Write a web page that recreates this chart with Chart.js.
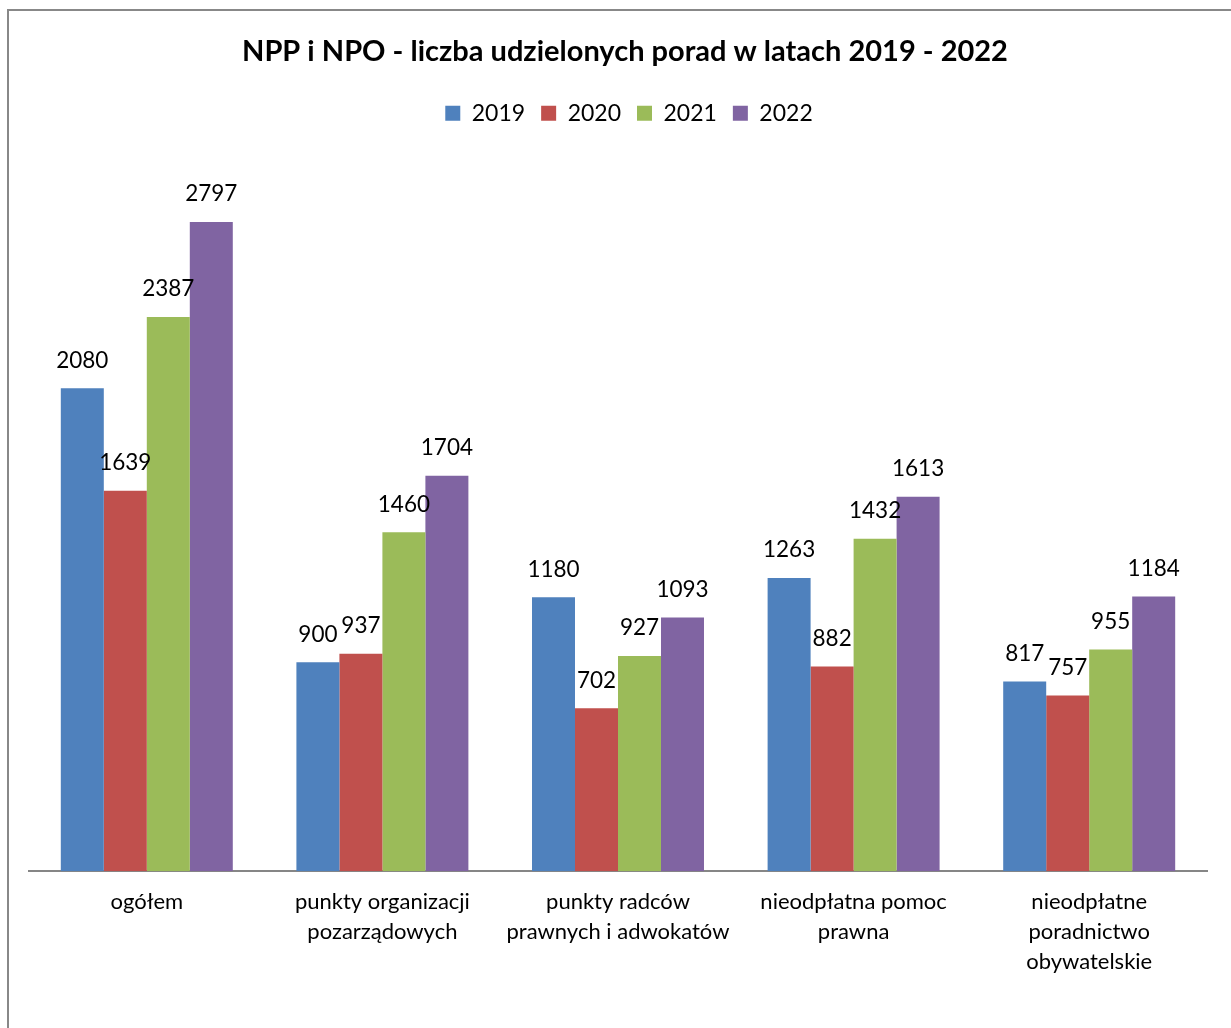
<!DOCTYPE html>
<html>
<head>
<meta charset="utf-8">
<script src="https://cdn.jsdelivr.net/npm/chart.js@4.4.1/dist/chart.umd.min.js"></script>
<style>
  html, body { margin: 0; padding: 0; background: #ffffff; }
  #wrap { position: relative; width: 1231px; height: 1028px; }
</style>
</head>
<body>
<div id="wrap"><canvas id="c" width="1231" height="1028"></canvas></div>
<script>
const titleText = 'NPP i NPO - liczba udzielonych porad w latach 2019 - 2022';
const categories = [
  ['ogółem'],
  ['punkty organizacji', 'pozarządowych'],
  ['punkty radców', 'prawnych i adwokatów'],
  ['nieodpłatna pomoc', 'prawna'],
  ['nieodpłatne', 'poradnictwo', 'obywatelskie']
];
const seriesNames = ['2019', '2020', '2021', '2022'];
const values2019 = [2080, 900, 1180, 1263, 817];
const values2020 = [1639, 937, 702, 882, 757];
const values2021 = [2387, 1460, 927, 1432, 955];
const values2022 = [2797, 1704, 1093, 1613, 1184];
const seriesColors = ['#4F81BD', '#C0504D', '#9BBB59', '#8064A2'];

const FONT = 'Lato, "Open Sans", sans-serif';

const frameBorder = {
  id: 'frameBorder',
  beforeDraw(chart) {
    const ctx = chart.ctx;
    ctx.save();
    ctx.fillStyle = '#ffffff';
    ctx.fillRect(0, 0, chart.width, chart.height);
    ctx.strokeStyle = '#888888';
    ctx.lineWidth = 2;
    ctx.beginPath();
    ctx.moveTo(8, chart.height + 2);
    ctx.lineTo(8, 10);
    ctx.lineTo(chart.width + 2, 10);
    ctx.stroke();
    ctx.restore();
  }
};

const headerLayout = {
  id: 'headerLayout',
  beforeInit(chart) {
    const origFit = chart.legend.fit;
    chart.legend.fit = function () {
      origFit.call(this);
      this.height += 40;
    };
  },
  afterLayout(chart) {
    if (chart.titleBlock) {
      chart.titleBlock.left += 7;
      chart.titleBlock.right += 7;
    }
    if (chart.legend) {
      chart.legend.left += 11;
      chart.legend.right += 11;
    }
  }
};

const valueLabels = {
  id: 'valueLabels',
  afterDatasetsDraw(chart) {
    const ctx = chart.ctx;
    ctx.save();
    ctx.font = '22.5px ' + FONT;
    ctx.fillStyle = '#000000';
    ctx.textAlign = 'center';
    ctx.textBaseline = 'middle';
    chart.data.datasets.forEach((ds, i) => {
      const meta = chart.getDatasetMeta(i);
      meta.data.forEach((bar, j) => {
        ctx.fillText(String(ds.data[j]), bar.x, bar.y - 28);
      });
    });
    ctx.restore();
  }
};

const seriesData = [values2019, values2020, values2021, values2022];

new Chart(document.getElementById('c'), {
  type: 'bar',
  data: {
    labels: categories,
    datasets: seriesNames.map((n, i) => ({
      label: n,
      data: seriesData[i],
      backgroundColor: seriesColors[i],
      borderWidth: 0,
      categoryPercentage: 0.73,
      barPercentage: 1.0
    }))
  },
  options: {
    responsive: false,
    animation: false,
    devicePixelRatio: 1,
    layout: { padding: { top: 20, left: 29, right: 24, bottom: 35 } },
    plugins: {
      title: {
        display: true,
        text: titleText,
        color: '#000000',
        font: { family: FONT, size: 29, weight: 'bold', lineHeight: 1.2 },
        padding: { top: 14, bottom: 17 }
      },
      legend: {
        display: true,
        position: 'top',
        labels: {
          color: '#000000',
          font: { family: FONT, size: 23 },
          boxWidth: 15,
          boxHeight: 15,
          padding: 16
        }
      },
      tooltip: { enabled: false }
    },
    scales: {
      x: {
        grid: { display: false, drawTicks: false },
        border: { display: true, color: '#868686', width: 2 },
        ticks: {
          color: '#000000',
          font: { family: FONT, size: 22, lineHeight: 1.36 },
          padding: 16,
          maxRotation: 0,
          autoSkip: false
        }
      },
      y: {
        display: false,
        min: 0,
        max: 3000
      }
    }
  },
  plugins: [frameBorder, headerLayout, valueLabels]
});
</script>
</body>
</html>
